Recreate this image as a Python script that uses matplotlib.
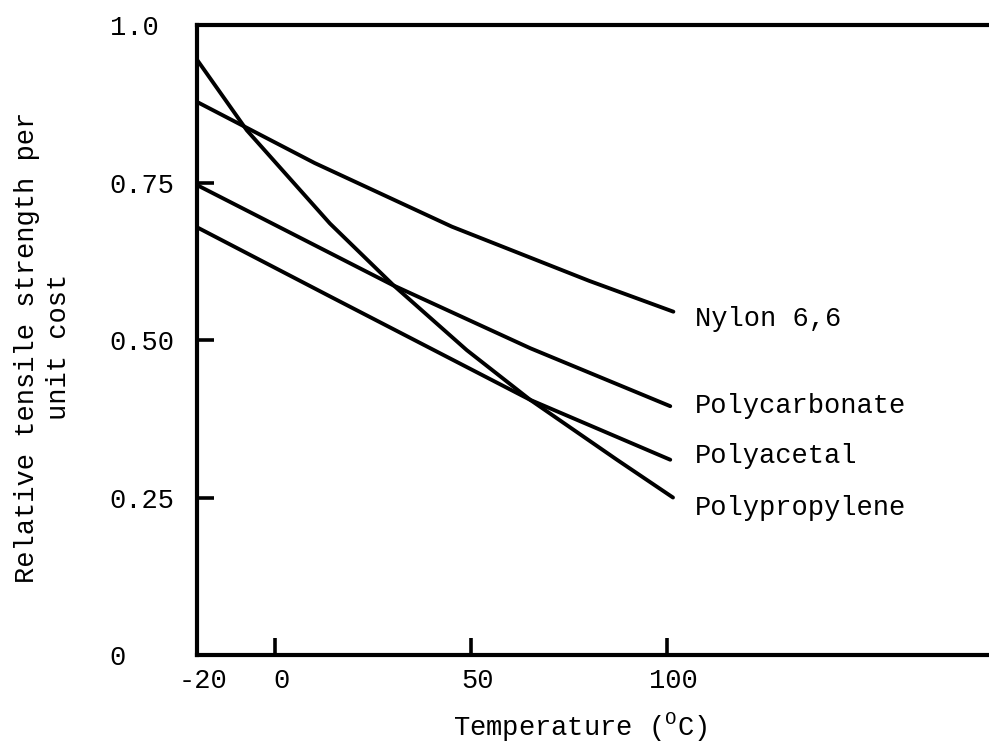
import matplotlib
matplotlib.use("Agg")
import matplotlib.pyplot as plt
import matplotlib.transforms as mtransforms

# ---- DATA ----
nylon_t = [-20, 10, 45, 80, 101.5]
nylon_v = [0.878, 0.781, 0.680, 0.594, 0.545]

pc_t = [-20, 30, 65, 100.7]
pc_v = [0.746, 0.587, 0.487, 0.395]

pa_t = [-20, 14, 65, 100.7]
pa_v = [0.679, 0.569, 0.405, 0.310]

pp_t = [-20, -7.3, 13.9, 30.1, 48.8, 65, 87.1, 101.4]
pp_v = [0.945, 0.833, 0.685, 0.587, 0.484, 0.405, 0.310, 0.250]

series_names = ["Nylon 6,6", "Polycarbonate", "Polyacetal", "Polypropylene"]
label_y = [0.534, 0.395, 0.316, 0.234]

x_ticks = [-20, 0, 50, 100]
x_tick_labels = ["-20", "0", "50", "100"]
y_ticks = [0, 0.25, 0.5, 0.75, 1.0]
y_tick_labels = ["0", "0.25", "0.50", "0.75", "1.0"]

FONT = "Liberation Mono"
FS = 19.5
plt.rcParams["font.family"] = FONT
plt.rcParams["mathtext.fontset"] = "custom"
plt.rcParams["mathtext.rm"] = FONT

fig = plt.figure(figsize=(9.89, 7.48), dpi=100)
ax = fig.add_axes([0.1992, 0.1243, 0.8008, 0.8422])

for t, v in [(nylon_t, nylon_v), (pc_t, pc_v), (pa_t, pa_v), (pp_t, pp_v)]:
    ax.plot(t, v, color="black", lw=2.8, solid_capstyle="round",
            solid_joinstyle="round", clip_on=False)

for name, y in zip(series_names, label_y):
    ax.text(107, y, name, fontsize=FS, va="center", ha="left")

ax.set_xlim(-20, 182)
ax.set_ylim(0, 1.0)

ax.spines["right"].set_visible(False)
for s in ["left", "bottom", "top"]:
    ax.spines[s].set_linewidth(3)

ax.set_xticks(x_ticks)
ax.set_xticklabels(x_tick_labels, fontsize=FS)
ax.set_yticks(y_ticks)
ax.set_yticklabels(y_tick_labels, fontsize=FS)
ax.tick_params(axis="both", direction="in", length=12, width=2.6, color="black")
ax.tick_params(axis="x", pad=9)
ax.tick_params(axis="y", pad=63)
for lab in ax.get_yticklabels():
    lab.set_horizontalalignment("left")
shift = mtransforms.ScaledTranslation(6 / 100, 0, fig.dpi_scale_trans)
for lab in ax.get_xticklabels():
    lab.set_transform(lab.get_transform() + shift)

fig.text(580 / 989, 1 - 727 / 748, r"Temperature ($^{\mathrm{O}}$C)",
         fontsize=FS, ha="center", va="center")
fig.text(43 / 989, 1 - 347 / 748, "Relative tensile strength per\nunit cost",
         fontsize=FS, ha="center", va="center", rotation=90,
         multialignment="center", linespacing=1.25)

fig.savefig("out.png", dpi=100)
